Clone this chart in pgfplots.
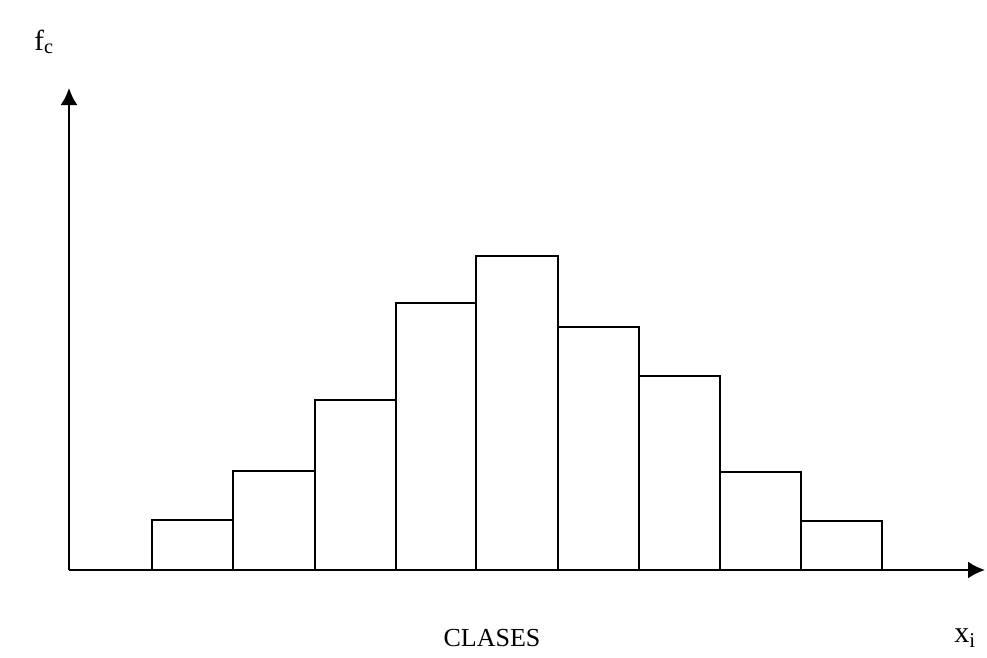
\documentclass[border=0pt]{standalone}
\usepackage{fontspec}
\setmainfont{Liberation Serif}
\usepackage{pgfplots}
\pgfplotsset{compat=1.18}
\usetikzlibrary{arrows.meta}
\begin{document}
\begin{tikzpicture}
\begin{axis}[
  scale only axis,
  width=916pt, height=482pt,
  xmin=69, xmax=985, ymin=0, ymax=482,
  axis lines=left,
  axis line style={line width=2.2pt},
  x axis line style={-{Latex[length=17pt,width=17pt]}},
  y axis line style={-{Latex[length=17pt,width=17pt]}},
  xtick=\empty, ytick=\empty,
  clip=false,
]
\addplot[ybar interval, fill=white, draw=black, line width=2pt] coordinates {
  (152,50) (233,99) (315,170) (396,267) (476,314) (558,243) (639,194) (720,98) (801,49) (882,49)
};
\node[font=\fontsize{29}{33}\selectfont] at (axis cs:44,528) {f\textsubscript{c}};
\node[font=\fontsize{26}{30}\selectfont] at (axis cs:492,-68) {CLASES};
\node[font=\fontsize{30}{33}\selectfont] at (axis cs:965,-68) {x\textsubscript{i}};
\path (axis cs:0,-87) rectangle (axis cs:987,570);
\end{axis}
\end{tikzpicture}
\end{document}
